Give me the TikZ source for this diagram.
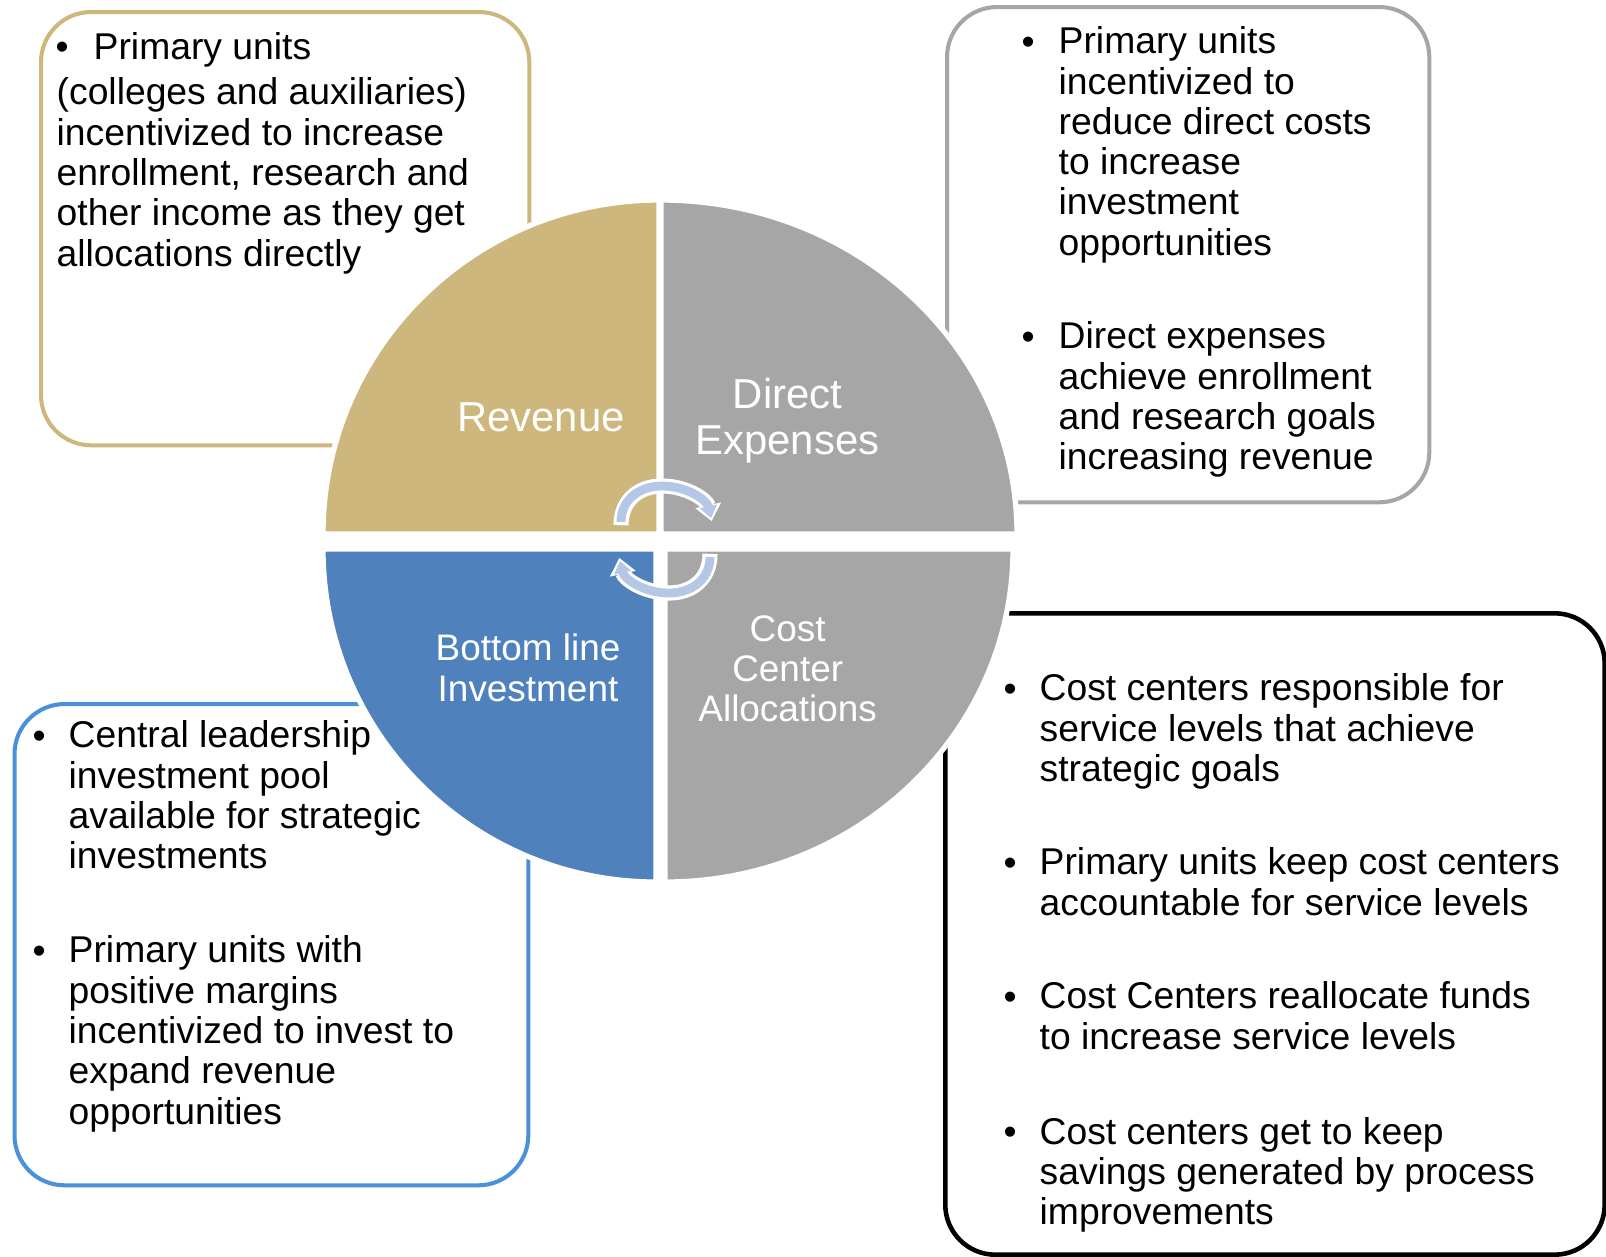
\documentclass[tikz,border=0pt]{standalone}
\usepackage{fontspec}
\setmainfont{Liberation Sans}
\usetikzlibrary{arrows.meta}

\definecolor{revtan}{HTML}{CDB77C}
\definecolor{expgrey}{HTML}{A6A6A6}
\definecolor{invblue}{HTML}{4F81BD}
\definecolor{boxblue}{HTML}{4A90DA}
\definecolor{cyclelight}{HTML}{B4C7E7}

\tikzset{
  infobox/.style={draw=#1,line width=1.15pt,rounded corners=0.5cm,fill=white,
    anchor=north west,inner sep=0pt},
  quarter/.style={fill=#1,draw=white,line width=1.5pt},
  % multi-line texts are anchored at the baseline of their last line
  bodytext/.style={inner sep=0pt,anchor=base west,align=left,
    font=\fontsize{10.6}{11.45}\selectfont},
  bulletmark/.style={inner sep=0pt,anchor=base west,
    font=\fontsize{10.6}{11.45}\selectfont},
  toplabel/.style={text=white,inner sep=0pt,anchor=base,align=center,
    font=\fontsize{11.9}{13.1}\selectfont},
  botlabel/.style={text=white,inner sep=0pt,anchor=base,align=center,
    font=\fontsize{10.5}{11.4}\selectfont},
  cycleback/.style={draw=white,line width=4.3pt,
    -{Triangle[width=7.2pt,length=4.6pt]},shorten >=-0.9pt,shorten <=-0.9pt},
  cyclefront/.style={draw=cyclelight,line width=2.5pt,
    -{Triangle[width=4.8pt,length=3.4pt]}},
}

\begin{document}
\begin{tikzpicture}[x=0.01cm,y=-0.01cm]
  \useasboundingbox (0,0) rectangle (1606,1256);
  % text boxes round the wheel
  \node[infobox=revtan,minimum width=4.88cm,minimum height=4.33cm] (revbox) at (39,10) {};
  \node[infobox=expgrey,minimum width=4.82cm,minimum height=4.95cm] (dexbox) at (945,5) {};
  \node[infobox=black,line width=1.3pt,minimum width=6.59cm,minimum height=6.41cm] (ccbox) at (943,611) {};
  \node[infobox=boxblue,minimum width=5.135cm,minimum height=4.81cm] (blbox) at (12.5,702) {};

  % the four quarters
  \draw[quarter=revtan] (659,534) -- (323,534)
    arc[start angle=180,end angle=270,x radius=336,y radius=334] -- cycle;
  \draw[quarter=expgrey] (661,534) -- (661,200)
    arc[start angle=270,end angle=360,x radius=356,y radius=334] -- cycle;
  \draw[quarter=expgrey] (665,549) -- (1013,549)
    arc[start angle=0,end angle=90,x radius=348,y radius=333] -- cycle;
  \draw[quarter=invblue] (656,549) -- (656,882)
    arc[start angle=90,end angle=180,x radius=333,y radius=333] -- cycle;

  % cycle arrows in the middle
  \foreach \turn in {0,180} {
    \begin{scope}[rotate around={\turn:(665.5,539.5)}]
      \draw[cycleback] (621,522) .. controls (621,500) and (639,486) .. (662,486)
        .. controls (687,486) and (707,500) .. (711,518);
      \draw[cyclefront] (621,522) .. controls (621,500) and (639,486) .. (662,486)
        .. controls (687,486) and (707,500) .. (711,518);
    \end{scope}
  }

  % labels of the quarters
  \node[toplabel] (revlabel) at (541,431.5) {Revenue};
  \node[toplabel] (dexlabel) at (787.5,454.4) {Direct\\Expenses};
  \node[botlabel] (bllabel) at (528,701) {Bottom line\\Investment};
  \node[botlabel] (cclabel) at (787.7,721.6) {Cost\\Center\\Allocations};

  % revenue box
  \node[bulletmark] (revdot) at (55,59) {•};
  \node[bodytext] (revhead) at (93,59) {Primary units};
  \node[bodytext] (revtext) at (56,266) {(colleges and auxiliaries)\\
    incentivized to increase\\enrollment, research and\\
    other income as they get\\allocations directly};

  % direct expenses box
  \node[bulletmark] (dexdota) at (1021,54) {•};
  \node[bodytext] (dextexta) at (1058,255.2) {Primary units\\incentivized to\\
    reduce direct costs\\to increase\\investment\\opportunities};
  \node[bulletmark] (dexdotb) at (1021,349) {•};
  \node[bodytext] (dextextb) at (1058,469.7) {Direct expenses\\achieve enrollment\\
    and research goals\\increasing revenue};

  % cost center box
  \node[bulletmark] (ccdota) at (1003,701) {•};
  \node[bodytext] (cctexta) at (1039,781.5) {Cost centers responsible for\\
    service levels that achieve\\strategic goals};
  \node[bulletmark] (ccdotb) at (1003,875) {•};
  \node[bodytext] (cctextb) at (1039,915.2) {Primary units keep cost centers\\
    accountable for service levels};
  \node[bulletmark] (ccdotc) at (1003,1009) {•};
  \node[bodytext] (cctextc) at (1039,1049.2) {Cost Centers reallocate funds\\
    to increase service levels};
  \node[bulletmark] (ccdotd) at (1003,1144) {•};
  \node[bodytext] (cctextd) at (1039,1224.5) {Cost centers get to keep\\
    savings generated by process\\improvements};

  % bottom line box
  \node[bulletmark] (bldota) at (32,748) {•};
  \node[bodytext] (bltexta) at (68,868.7) {Central leadership\\investment pool\\
    available for strategic\\investments};
  \node[bulletmark] (bldotb) at (32,963) {•};
  \node[bodytext] (bltextb) at (68,1124) {Primary units with\\positive margins\\
    incentivized to invest to\\expand revenue\\opportunities};
\end{tikzpicture}
\end{document}
